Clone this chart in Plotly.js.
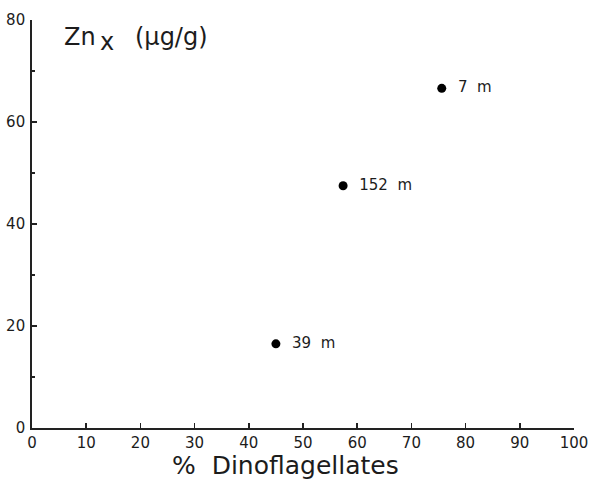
<!DOCTYPE html>
<html>
<head>
<meta charset="utf-8">
<script src="https://cdn.plot.ly/plotly-3.0.1.min.js"></script>
<style>html,body{margin:0;padding:0;background:#fff;}#chart{width:593px;height:482px;}</style>
</head>
<body>
<div id="chart"></div>
<script>
// Data
const dinoPct = [75.6, 57.4, 45.0];
const znX = [66.6, 47.5, 16.5];
const depthLabels = ["7 m", "152 m", "39 m"];
const xTickVals = [0, 10, 20, 30, 40, 50, 60, 70, 80, 90, 100];
const yTickVals = [0, 20, 40, 60, 80];
const yMinorVals = [10, 30, 50, 70];

const NB = "\u00a0";
const labelText = depthLabels.map(s => NB + NB + s.replace(" ", NB + NB));

const FONT = "DejaVu Sans, Verdana, sans-serif";
const INK = "#1c1c1c";

const trace = {
  x: dinoPct,
  y: znX,
  mode: "markers+text",
  type: "scatter",
  text: labelText,
  textposition: "middle right",
  textfont: {family: FONT, size: 15, color: INK},
  marker: {color: "#000", size: 9},
  hoverinfo: "none",
  cliponaxis: false
};

const layout = {
  width: 593,
  height: 482,
  margin: {l: 32, r: 19, t: 20, b: 54},
  paper_bgcolor: "#fff",
  plot_bgcolor: "#fff",
  showlegend: false,
  font: {family: FONT, color: INK},
  xaxis: {
    range: [0, 100],
    tickvals: xTickVals,
    ticktext: xTickVals.map(String),
    ticks: "inside",
    ticklen: 5,
    tickwidth: 1.5,
    tickcolor: "#222",
    showline: true,
    linecolor: "#222",
    linewidth: 1.8,
    showgrid: false,
    zeroline: false,
    tickfont: {family: FONT, size: 15, color: INK},
    ticklabelstandoff: 0,
    fixedrange: true
  },
  yaxis: {
    range: [0, 80],
    tickvals: yTickVals,
    ticktext: yTickVals.map(String),
    ticks: "inside",
    ticklen: 5,
    tickwidth: 1.5,
    tickcolor: "#222",
    minor: {tickvals: yMinorVals, ticks: "inside", ticklen: 3, tickwidth: 1.2, tickcolor: "#222"},
    showline: true,
    linecolor: "#222",
    linewidth: 1.8,
    showgrid: false,
    zeroline: false,
    tickfont: {family: FONT, size: 15, color: INK},
    ticklabelstandoff: 2,
    fixedrange: true
  },
  annotations: [
    {
      text: "Zn",
      xref: "x", yref: "y", x: 5.54, y: 76.6,
      xanchor: "left", yanchor: "middle",
      showarrow: false,
      font: {family: FONT, size: 24, color: INK}
    },
    {
      text: "x",
      xref: "x", yref: "y", x: 12.1, y: 75.6,
      xanchor: "left", yanchor: "middle",
      showarrow: false,
      font: {family: FONT, size: 24, color: INK}
    },
    {
      text: "(μg/g)",
      xref: "x", yref: "y", x: 18.6, y: 76.6,
      xanchor: "left", yanchor: "middle",
      showarrow: false,
      font: {family: FONT, size: 24, color: INK}
    },
    {
      text: "%" + NB + NB + "Dinoflagellates",
      xref: "x", yref: "paper", x: 25.5, y: 0, yshift: -37,
      xanchor: "left", yanchor: "middle",
      showarrow: false,
      font: {family: FONT, size: 25, color: INK}
    }
  ]
};

Plotly.newPlot("chart", [trace], layout, {staticPlot: true, displayModeBar: false});
</script>
</body>
</html>
